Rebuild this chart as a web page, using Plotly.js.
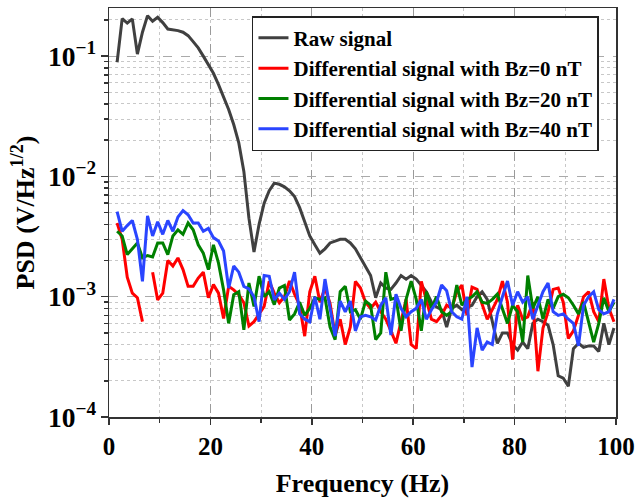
<!DOCTYPE html>
<html>
<head>
<meta charset="utf-8">
<script src="https://cdn.plot.ly/plotly-3.0.1.min.js"></script>
<style>html,body{margin:0;padding:0;background:#fff;}#chart{width:635px;height:498px;}</style>
</head>
<body>
<div id="chart"></div>
<script>
var freq = [1.6,2.6,3.6,4.6,5.6,6.6,7.6,8.6,9.6,10.6,11.6,12.6,13.6,14.6,15.6,16.6,17.6,18.6,19.6,20.6,
21.6,22.6,23.6,24.6,25.6,26.6,27.6,28.6,29.6,30.6,31.6,32.6,33.6,34.6,35.6,36.6,37.6,38.6,39.6,40.6,
41.6,42.6,43.6,44.6,45.6,46.6,47.6,48.6,49.6,50.6,51.6,52.6,53.6,54.6,55.6,56.6,57.6,58.6,59.6,60.6,
61.6,62.6,63.6,64.6,65.6,66.6,67.6,68.6,69.6,70.6,71.6,72.6,73.6,74.6,75.6,76.6,77.6,78.6,79.6,80.6,
81.6,82.6,83.6,84.6,85.6,86.6,87.6,88.6,89.6,90.6,91.6,92.6,93.6,94.6,95.6,96.6,97.6,98.6,99.6];

var rawSignal = [0.089,0.205,0.188,0.204,0.104,0.158,0.217,0.195,0.21,0.19,
0.168,0.166,0.163,0.158,0.148,0.132,0.117,0.100,0.085,0.072,
0.058,0.046,0.036,0.027,0.019,0.011,0.0045,0.00235,0.0040,0.0060,
0.0076,0.0088,0.0086,0.0082,0.0076,0.0068,0.0055,0.0042,0.0032,0.0027,
0.0023,0.0025,0.0028,0.0029,0.0030,0.0030,0.0028,0.0025,0.0021,0.0018,
0.0015,0.00098,0.0013,0.00118,0.00115,0.00130,0.0015,0.0014,0.0015,0.0014,
0.00125,0.0011,0.00090,0.00082,0.00078,0.00056,0.00080,0.00085,0.00078,0.00082,
0.00085,0.0010,0.0011,0.00095,0.00062,0.00041,0.00050,0.00050,0.00040,0.00036,
0.00042,0.00037,0.00060,0.00065,0.00062,0.00058,0.00040,0.00022,0.00021,0.00018,
0.00037,0.00041,0.00038,0.00039,0.00039,0.00035,0.00060,0.00040,0.00055];

var diffBz0 = [0.0041,0.0030,0.00145,0.00107,0.00098,0.00062,null,0.0016,0.00094,0.00107,
0.0020,0.0018,0.0021,0.00168,0.00122,0.00122,0.00143,0.0016,0.00098,0.00126,
0.00107,0.00066,0.00122,0.00114,0.00104,0.00089,0.00057,0.00062,0.00071,0.00083,
0.00134,0.00107,0.00089,0.00100,0.00135,0.00105,0.00085,0.00047,0.00110,0.00148,
0.00090,0.00118,0.00088,0.00048,0.00065,0.00040,0.00056,0.00134,0.00118,0.00090,
0.00080,0.00090,0.00075,0.00065,0.00052,0.00041,0.00062,0.00095,0.00040,0.00037,
0.00134,0.00095,0.00065,0.00062,0.00070,0.00085,0.00080,0.00110,0.00125,0.00070,
0.00120,0.00115,0.00085,0.00065,0.00078,0.00095,0.00135,0.00090,0.00030,0.00085,
0.00065,0.00068,0.00090,0.00024,0.00055,0.00075,0.00115,0.00118,0.00090,0.00045,
0.00052,0.00070,0.00100,0.00110,0.00075,0.00062,0.00140,0.00080,0.00062];

var diffBz20 = [0.0035,0.0032,0.00224,0.0025,0.0028,0.0021,0.0022,0.00214,0.0028,0.0028,
0.00224,0.0032,0.0036,0.0033,0.0041,0.0036,0.0027,0.0023,0.00168,0.0027,
0.0019,0.00114,0.0006,0.00104,0.0011,0.00053,0.0013,0.00083,0.00148,0.0010,
0.0011,0.00086,0.00118,0.00124,0.00064,0.00072,0.00090,0.00070,0.00080,0.00098,
0.00095,0.00098,0.00056,0.00044,0.00110,0.00122,0.00075,0.00078,0.00065,0.00092,
0.00085,0.00044,0.00050,0.0016,0.00095,0.00098,0.00052,0.00095,0.00135,0.00095,
0.00052,0.00110,0.00080,0.00100,0.00075,0.00070,0.00075,0.00125,0.00085,0.00095,
0.00100,0.00110,0.00090,0.00088,0.00095,0.00105,0.00080,0.00060,0.00085,0.00075,
0.00042,0.00150,0.00080,0.00100,0.00065,0.00095,0.00080,0.00100,0.00105,0.00098,
0.00085,0.00072,0.00090,0.00060,0.00042,0.00060,0.00098,0.00075,0.00090];

var diffBz40 = [0.0051,0.0035,0.0039,0.0043,0.0030,0.00134,0.0047,0.0032,0.0042,0.0033,
0.0043,0.0035,0.0046,0.0052,0.0048,0.0041,0.0041,0.0035,0.0037,0.0031,
0.0029,0.0024,0.00118,0.0018,0.0016,0.00122,0.00116,0.0010,0.00062,0.0015,
0.00148,0.00094,0.00107,0.00095,0.00110,0.0016,0.00072,0.00065,0.00062,0.00100,
0.00065,0.00140,0.00080,0.00047,0.00092,0.00075,0.00092,0.00052,0.00068,0.00070,
0.00068,0.00064,0.00085,0.00098,0.00048,0.00105,0.00080,0.00068,0.00075,0.00080,
0.00095,0.00065,0.00078,0.00090,0.00125,0.00112,0.00075,0.00068,0.00065,0.00100,
0.00026,0.00055,0.00036,0.00042,0.00040,0.00072,0.00100,0.00135,0.00085,0.00110,
0.00090,0.00100,0.00065,0.00085,0.00110,0.00130,0.00075,0.00070,0.00072,0.00065,
0.00060,0.00039,0.00085,0.00100,0.00110,0.00078,0.00072,0.00075,0.00095];

var seriesNames = ['Raw signal','Differential signal with Bz=0 nT','Differential signal with Bz=20 nT','Differential signal with Bz=40 nT'];
var seriesData = [rawSignal, diffBz0, diffBz20, diffBz40];
var seriesColors = ['#404040','#ff0000','#008000','#2a45ff'];

var xTickVals = [0,20,40,60,80,100];

var traces = seriesData.map(function(d,i){
  return {x: freq, y: d, name: seriesNames[i], type:'scatter', mode:'lines',
    line:{color: seriesColors[i], width:3}, connectgaps:false};
});

var fontFam = '"Liberation Serif", "Times New Roman", serif';
var layout = {
  width:635, height:498,
  margin:{l:109, r:19, t:8, b:81},
  paper_bgcolor:'#fff', plot_bgcolor:'#fff',
  font:{family:fontFam, color:'#000'},
  showlegend:true,
  legend:{x:0.282, y:0.98, xanchor:'left', yanchor:'top', bgcolor:'#fff',
    bordercolor:'#222', borderwidth:1.5, font:{family:fontFam, size:21, color:'#000', weight:'bold'},
    tracegroupgap:0},
  xaxis:{range:[0,100], tickvals:xTickVals, ticks:'outside', ticklen:6, tickwidth:1.5, tickcolor:'#333',
    showline:true, linecolor:'#333', linewidth:1.5, mirror:true, zeroline:false,
    showgrid:true, gridcolor:'#9a9a9a', griddash:'dash', gridwidth:1,
    tickfont:{family:fontFam, size:25, color:'#000', weight:'bold'},
    minor:{dtick:10, tick0:0, ticks:'outside', ticklen:4, tickcolor:'#333', showgrid:true, gridcolor:'#c8c8c8', griddash:'dot', gridwidth:1},
    title:{text:'Frequency (Hz)', font:{family:fontFam, size:26, color:'#000', weight:'bold'}, standoff:15}},
  yaxis:{type:'log', range:[-4,-0.6], dtick:1, exponentformat:'power', ticks:'outside', ticklen:7, tickwidth:1.5, tickcolor:'#333',
    showline:true, linecolor:'#333', linewidth:1.5, mirror:true, zeroline:false,
    showgrid:true, gridcolor:'#aaaaaa', griddash:'dash', gridwidth:1,
    tickfont:{family:fontFam, size:22, color:'#000', weight:'bold'},
    minor:{dtick:'D1', ticks:'outside', ticklen:4, tickcolor:'#333', showgrid:true, gridcolor:'#c8c8c8', griddash:'dot', gridwidth:1},
    title:{text:'PSD (V/Hz<sup>1/2</sup>)', font:{family:fontFam, size:26, color:'#000', weight:'bold'}, standoff:6}}
};

Plotly.newPlot('chart', traces, layout, {displayModeBar:false, staticPlot:true});
</script>
</body>
</html>
